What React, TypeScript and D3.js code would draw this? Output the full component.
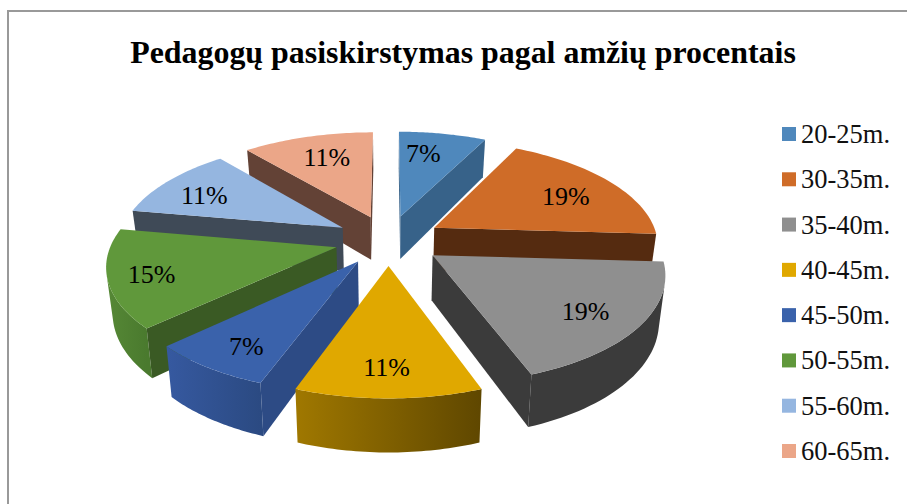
import React from "react";
import * as d3 from "d3";

const title = "Pedagogų pasiskirstymas pagal amžių procentais";
const categories = ["20-25m.", "30-35m.", "35-40m.", "40-45m.", "45-50m.", "50-55m.", "55-60m.", "60-65m."];
const counts = [2, 5, 5, 3, 2, 4, 3, 3];
const topColors = ["#4f88bc", "#cf6c28", "#8f8f8f", "#e0a800", "#3a62ab", "#60983b", "#95b6e0", "#eba688"];
const radialColors = ["#376289", "#552b10", "#3b3b3b", "#7a5c00", "#2d4b85", "#3a5a24", "#3f4a57", "#634236"];
const wallStart = ["#376289", "#552b10", "#3b3b3b", "#5f4700", "#2b4a82", "#4a7a2e", "#3f4a57", "#634236"];
const wallEnd = ["#376289", "#552b10", "#3b3b3b", "#a07800", "#3659a0", "#568836", "#3f4a57", "#634236"];
const labelRadius = [0.733, 0.718, 0.77, 0.792, 0.8, 0.815, 0.754, 0.719];
const labelTurn = [-3.7, 2.5, 1.5, 0.5, -1.8, -0.7, -2.9, 1.3];

const W = 907, H = 504;
const cx = 388.5, cy = 240, R = 224, B = 104, k = 0.15, depth = 44, explode = 0.24;

const total = d3.sum(counts);
const s = (Y: number) => 1 / (1 - k * Y);
// polar position on the pie plane, angle measured clockwise from the back of the pie
const plane = (t: number, r: number) => ({ X: r * Math.sin(t), Y: -r * Math.cos(t) });
const project = (X: number, Y: number, low = false) => {
  const f = s(Y);
  return [cx + R * X * f * (low ? 0.977 : 1), cy + B * Y * f + (low ? depth * f : 0)] as [number, number];
};
const line = d3.line();

const arcs = d3.pie<number>().sort(null)(counts);

const slices = arcs.map((a, i) => {
  const mid = (a.startAngle + a.endAngle) / 2;
  const off = plane(mid, explode);
  const pt = (t: number, r: number, low = false) => {
    const p = plane(t, r);
    return project(off.X + p.X, off.Y + p.Y, low);
  };
  const n = 40;
  const ts = d3.range(0, n + 1).map((j) => a.startAngle + ((a.endAngle - a.startAngle) * j) / n);
  const rim = ts.map((t) => pt(t, 1));
  const rimLow = ts.map((t) => pt(t, 1, true));
  const apex = pt(0, 0);
  const apexLow = pt(0, 0, true);
  // the part of the outer wall that faces the viewer
  const visible = d3.range(0, n).filter((j) => d3.polygonArea([rim[j], rim[j + 1], rimLow[j + 1], rimLow[j]]) > 0);
  let wall: string | null = null;
  let gx: [number, number] = [0, 1];
  if (visible.length) {
    const from = visible[0];
    const to = visible[visible.length - 1] + 1;
    const upper = rim.slice(from, to + 1);
    const lower = rimLow.slice(from, to + 1).reverse();
    wall = line([...upper, ...lower]) + "Z";
    gx = [rim[from][0], rim[to][0]];
  }
  const faces = [
    [apex, rim[0], rimLow[0], apexLow],
    [rim[n], apex, apexLow, rimLow[n]],
  ]
    .filter((q) => d3.polygonArea(q) > 0)
    .map((q) => line(q) + "Z");
  const top = line([apex, ...rim]) + "Z";
  const lp = plane(mid + (labelTurn[i] * Math.PI) / 180, labelRadius[i]);
  const label = project(off.X + lp.X, off.Y + lp.Y);
  return { i, wall, gx, faces, top, label, order: off.Y };
});
const drawOrder = [...slices].sort((p, q) => p.order - q.order);

const legendY = d3.scalePoint<string>().domain(categories).range([134, 451]);

export default function App() {
  return (
    <svg width={W} height={H} style={{ position: "absolute", left: 0, top: 0, background: "#fff" }}>
      <defs>
        {slices.map((sl) => (
          <linearGradient key={sl.i} id={`wall${sl.i}`} gradientUnits="userSpaceOnUse" x1={sl.gx[0]} x2={sl.gx[1]} y1={0} y2={0}>
            <stop offset="0" stopColor={wallStart[sl.i]} />
            <stop offset="1" stopColor={wallEnd[sl.i]} />
          </linearGradient>
        ))}
      </defs>
      <path d="M907,11H8V504" fill="none" stroke="#999" strokeWidth={2} />
      <text x={463} y={63} textAnchor="middle" fontFamily="Liberation Serif" fontWeight="bold" fontSize={31.9} fill="#000">
        {title}
      </text>
      {drawOrder.map((sl) => (
        <g key={sl.i}>
          {sl.wall && <path d={sl.wall} fill={`url(#wall${sl.i})`} />}
          {sl.faces.map((d, j) => (
            <path key={j} d={d} fill={radialColors[sl.i]} />
          ))}
          <path d={sl.top} fill={topColors[sl.i]} />
        </g>
      ))}
      {slices.map((sl) => (
        <text key={sl.i} x={sl.label[0]} y={sl.label[1] + 9} textAnchor="middle" fontFamily="Liberation Serif" fontSize={26} fill="#000">
          {Math.round((counts[sl.i] / total) * 100)}%
        </text>
      ))}
      {categories.map((c, i) => (
        <g key={c}>
          <rect x={782} y={legendY(c)! - 7} width={14} height={14} fill={topColors[i]} />
          <text x={801} y={legendY(c)! + 9} fontFamily="Liberation Serif" fontSize={26.5} fill="#111">
            {c}
          </text>
        </g>
      ))}
    </svg>
  );
}
